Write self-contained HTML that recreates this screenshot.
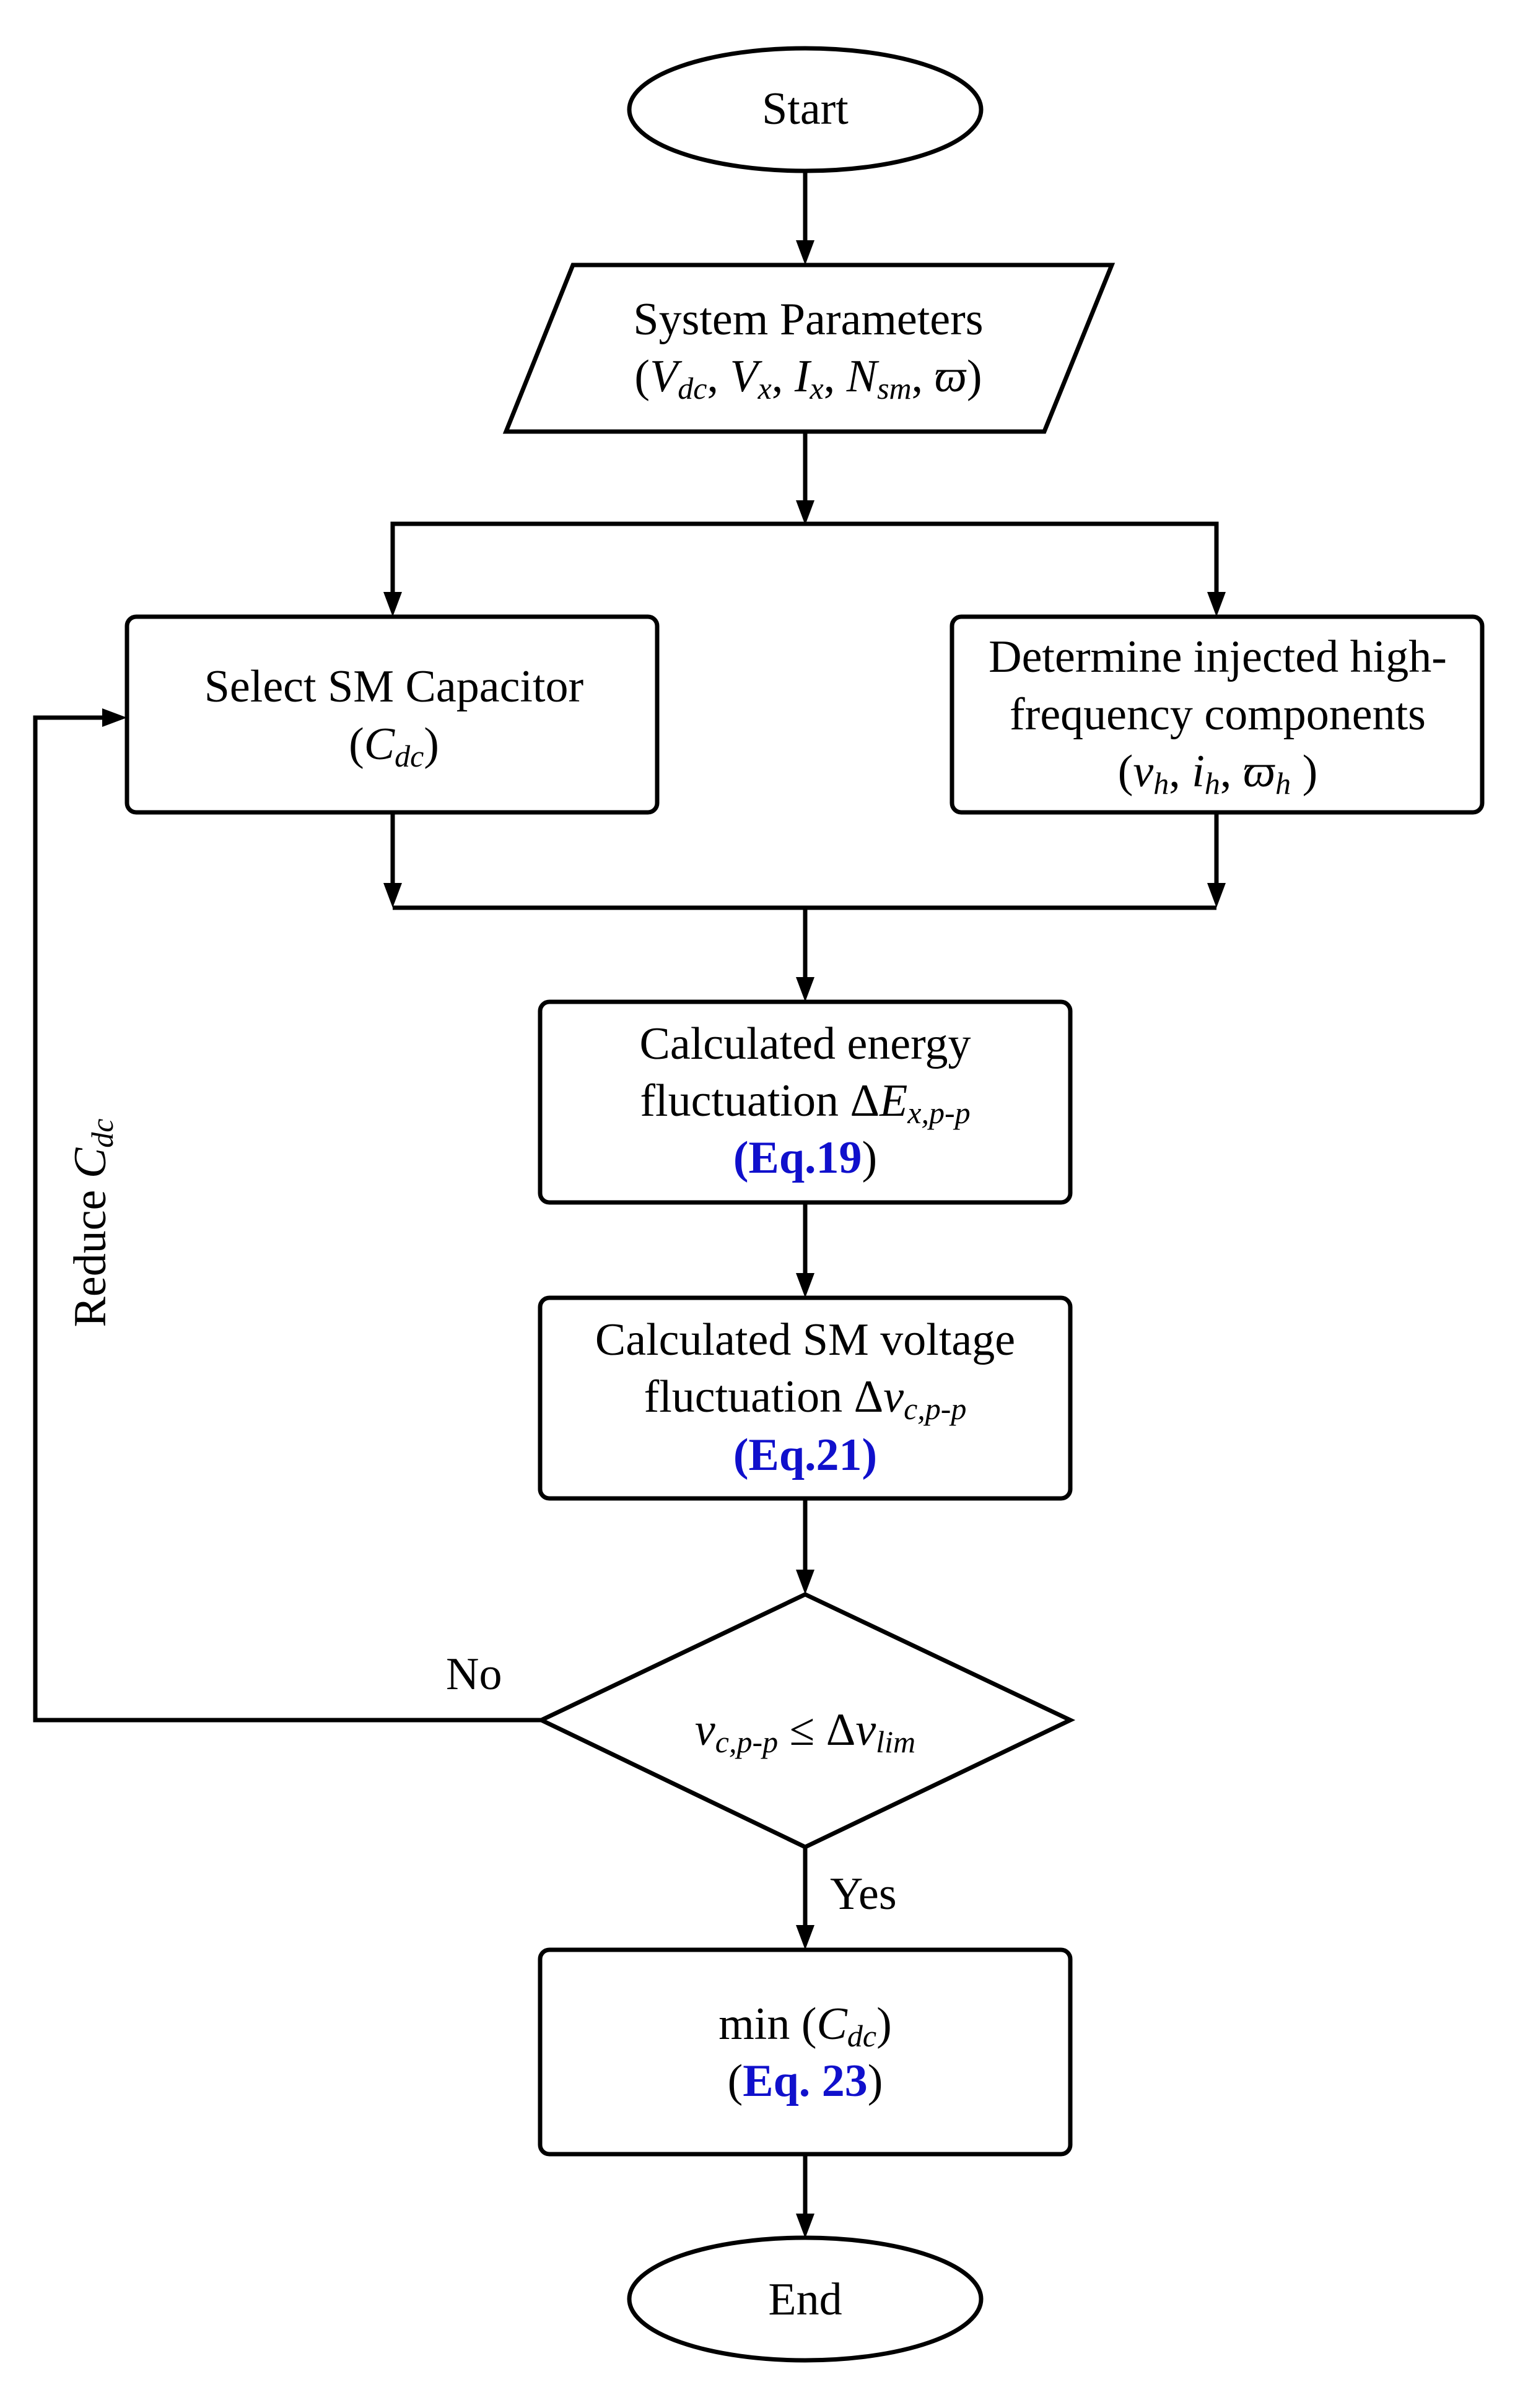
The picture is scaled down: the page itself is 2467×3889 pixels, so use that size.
<!DOCTYPE html>
<html><head><meta charset="utf-8"><style>
html,body{margin:0;padding:0;background:#fff}
svg{display:block}
text{font-family:"Liberation Serif","Times New Roman","DejaVu Serif",serif;font-size:74px;fill:#000}
.b{fill:#1010cc;font-weight:bold}
.i{font-style:italic}
</style></head><body>
<svg width="2467" height="3889" viewBox="0 0 2467 3889" xmlns="http://www.w3.org/2000/svg">
<g fill="none" stroke="#000" stroke-width="7">
<ellipse cx="1300" cy="177" rx="284" ry="99"/>
<polygon points="925,428 1795,428 1686,697 817,697"/>
<rect x="205" y="996" width="856" height="316" rx="15"/>
<rect x="1537" y="996" width="856" height="316" rx="15"/>
<rect x="872" y="1618" width="856" height="324" rx="15"/>
<rect x="872" y="2096" width="856" height="324" rx="15"/>
<polygon points="1300,2575 1728,2778 1300,2983 874,2778"/>
<rect x="872" y="3149" width="856" height="330" rx="15"/>
<ellipse cx="1300" cy="3713" rx="284" ry="99"/>
<line x1="1300" y1="276" x2="1300" y2="400"/>
<line x1="1300" y1="697" x2="1300" y2="820"/>
<polyline points="634,975 634,846 1964,846 1964,975"/>
<line x1="634" y1="1312" x2="634" y2="1440"/>
<line x1="1964" y1="1312" x2="1964" y2="1440"/>
<line x1="634" y1="1466" x2="1964" y2="1466"/>
<line x1="1300" y1="1466" x2="1300" y2="1595"/>
<line x1="1300" y1="1942" x2="1300" y2="2073"/>
<line x1="1300" y1="2420" x2="1300" y2="2552"/>
<polyline points="874,2778 57,2778 57,1159 180,1159"/>
<line x1="1300" y1="2983" x2="1300" y2="3125"/>
<line x1="1300" y1="3479" x2="1300" y2="3590"/>
</g>
<g fill="#000">
<polygon points="1285,388 1315,388 1300,428"/>
<polygon points="1285,808 1315,808 1300,848"/>
<polygon points="619,956 649,956 634,996"/>
<polygon points="1949,956 1979,956 1964,996"/>
<polygon points="619,1426 649,1426 634,1466"/>
<polygon points="1949,1426 1979,1426 1964,1466"/>
<polygon points="1285,1578 1315,1578 1300,1618"/>
<polygon points="1285,2056 1315,2056 1300,2096"/>
<polygon points="1285,2535 1315,2535 1300,2575"/>
<polygon points="165,1144 165,1174 205,1159"/>
<polygon points="1285,3109 1315,3109 1300,3149"/>
<polygon points="1285,3575 1315,3575 1300,3615"/>
</g>
<g text-anchor="middle">
<text x="1300" y="200">Start</text>
<text x="1305" y="540">System Parameters</text>
<text x="1305" y="632">(<tspan class="i">V<tspan font-size="50" dy="12">dc</tspan></tspan><tspan dy="-12">, </tspan><tspan class="i">V<tspan font-size="50" dy="12">x</tspan></tspan><tspan dy="-12">, </tspan><tspan class="i">I<tspan font-size="50" dy="12">x</tspan></tspan><tspan dy="-12">, </tspan><tspan class="i">N<tspan font-size="50" dy="12">sm</tspan></tspan><tspan dy="-12">, </tspan><tspan class="i">ϖ</tspan>)</text>
<text x="636" y="1133">Select SM Capacitor</text>
<text x="636" y="1226">(<tspan class="i">C<tspan font-size="50" dy="12">dc</tspan></tspan><tspan dy="-12">)</tspan></text>
<text x="1966" y="1085">Determine injected high-</text>
<text x="1966" y="1178">frequency components</text>
<text x="1966" y="1270">(<tspan class="i">v<tspan font-size="50" dy="12">h</tspan></tspan><tspan dy="-12">, </tspan><tspan class="i">i<tspan font-size="50" dy="12">h</tspan></tspan><tspan dy="-12">, </tspan><tspan class="i">ϖ<tspan font-size="50" dy="12">h</tspan></tspan><tspan dy="-12"> )</tspan></text>
<text x="1300" y="1710">Calculated energy</text>
<text x="1300" y="1802">fluctuation Δ<tspan class="i">E<tspan font-size="50" dy="12">x,p-p</tspan></tspan></text>
<text x="1300" y="1894"><tspan class="b">(Eq.19</tspan>)</text>
<text x="1300" y="2188">Calculated SM voltage</text>
<text x="1300" y="2280">fluctuation Δ<tspan class="i">v<tspan font-size="50" dy="12">c,p-p</tspan></tspan></text>
<text x="1300" y="2374" class="b">(Eq.21)</text>
<text x="1300" y="2818"><tspan class="i">v<tspan font-size="50" dy="12">c,p-p</tspan></tspan><tspan dy="-12"> ≤  Δ</tspan><tspan class="i">v<tspan font-size="50" dy="12">lim</tspan></tspan></text>
<text x="1300" y="3293">min (<tspan class="i">C<tspan font-size="50" dy="12">dc</tspan></tspan><tspan dy="-12">)</tspan></text>
<text x="1300" y="3385">(<tspan class="b">Eq. 23</tspan>)</text>
<text x="1300" y="3738">End</text>
</g>
<text x="720" y="2728">No</text>
<text x="1340" y="3083">Yes</text>
<text transform="translate(170,1975) rotate(-90)" text-anchor="middle">Reduce <tspan class="i">C<tspan font-size="50" dy="12">dc</tspan></tspan></text>
</svg>
</body></html>
